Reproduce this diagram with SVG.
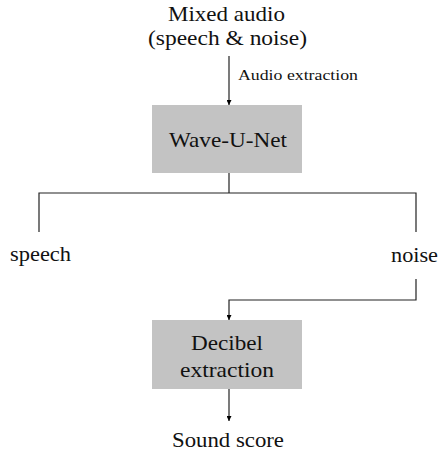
<svg xmlns="http://www.w3.org/2000/svg" width="439" height="452" viewBox="0 0 439 452">
  <style>
    text { font-family: 'Liberation Serif', 'Times New Roman', Times, serif; fill: #111; }
    .t { font-size: 21px; }
    .s { font-size: 15px; }
    .box { fill: #c3c3c3; }
    .ln { fill: none; stroke: #222; stroke-width: 1.2; }
  </style>
  <defs>
    <marker id="arrow" viewBox="0 0 10 10" refX="10" refY="5" markerWidth="5" markerHeight="5" markerUnits="userSpaceOnUse" orient="auto">
      <path d="M0,0 L10,5 L0,10 z" fill="#000"/>
    </marker>
  </defs>
  <rect width="439" height="452" fill="#fff"/>

  <!-- connectors: input arrow, split to speech/noise, noise into decibel box, output arrow -->
  <g id="connectors">
    <path class="ln" d="M229,56 V105" marker-end="url(#arrow)"/>
    <path class="ln" d="M229,173 V193 M39,232 V193 H416 V232"/>
    <path class="ln" d="M416,279 V300 H229 V320" marker-end="url(#arrow)"/>
    <path class="ln" d="M229,389 V421" marker-end="url(#arrow)"/>
    <text class="s" x="238" y="80" textLength="120" lengthAdjust="spacingAndGlyphs">Audio extraction</text>
  </g>

  <g id="input">
    <text class="t" x="168" y="21" textLength="117" lengthAdjust="spacingAndGlyphs">Mixed audio</text>
    <text class="t" x="148" y="45" textLength="159" lengthAdjust="spacingAndGlyphs">(speech &amp; noise)</text>
  </g>

  <g id="wave-u-net">
    <rect class="box" x="152" y="105" width="150" height="68"/>
    <text class="t" x="169" y="147" textLength="118" lengthAdjust="spacingAndGlyphs">Wave-U-Net</text>
  </g>

  <g id="speech">
    <text class="t" x="10" y="261" textLength="61" lengthAdjust="spacingAndGlyphs">speech</text>
  </g>

  <g id="noise">
    <text class="t" x="391" y="262" textLength="47" lengthAdjust="spacingAndGlyphs">noise</text>
  </g>

  <g id="decibel-extraction">
    <rect class="box" x="152" y="320" width="150" height="69"/>
    <text class="t" x="191" y="350" textLength="72" lengthAdjust="spacingAndGlyphs">Decibel</text>
    <text class="t" x="180" y="377" textLength="94" lengthAdjust="spacingAndGlyphs">extraction</text>
  </g>

  <g id="sound-score">
    <text class="t" x="172" y="447" textLength="112" lengthAdjust="spacingAndGlyphs">Sound score</text>
  </g>
</svg>
